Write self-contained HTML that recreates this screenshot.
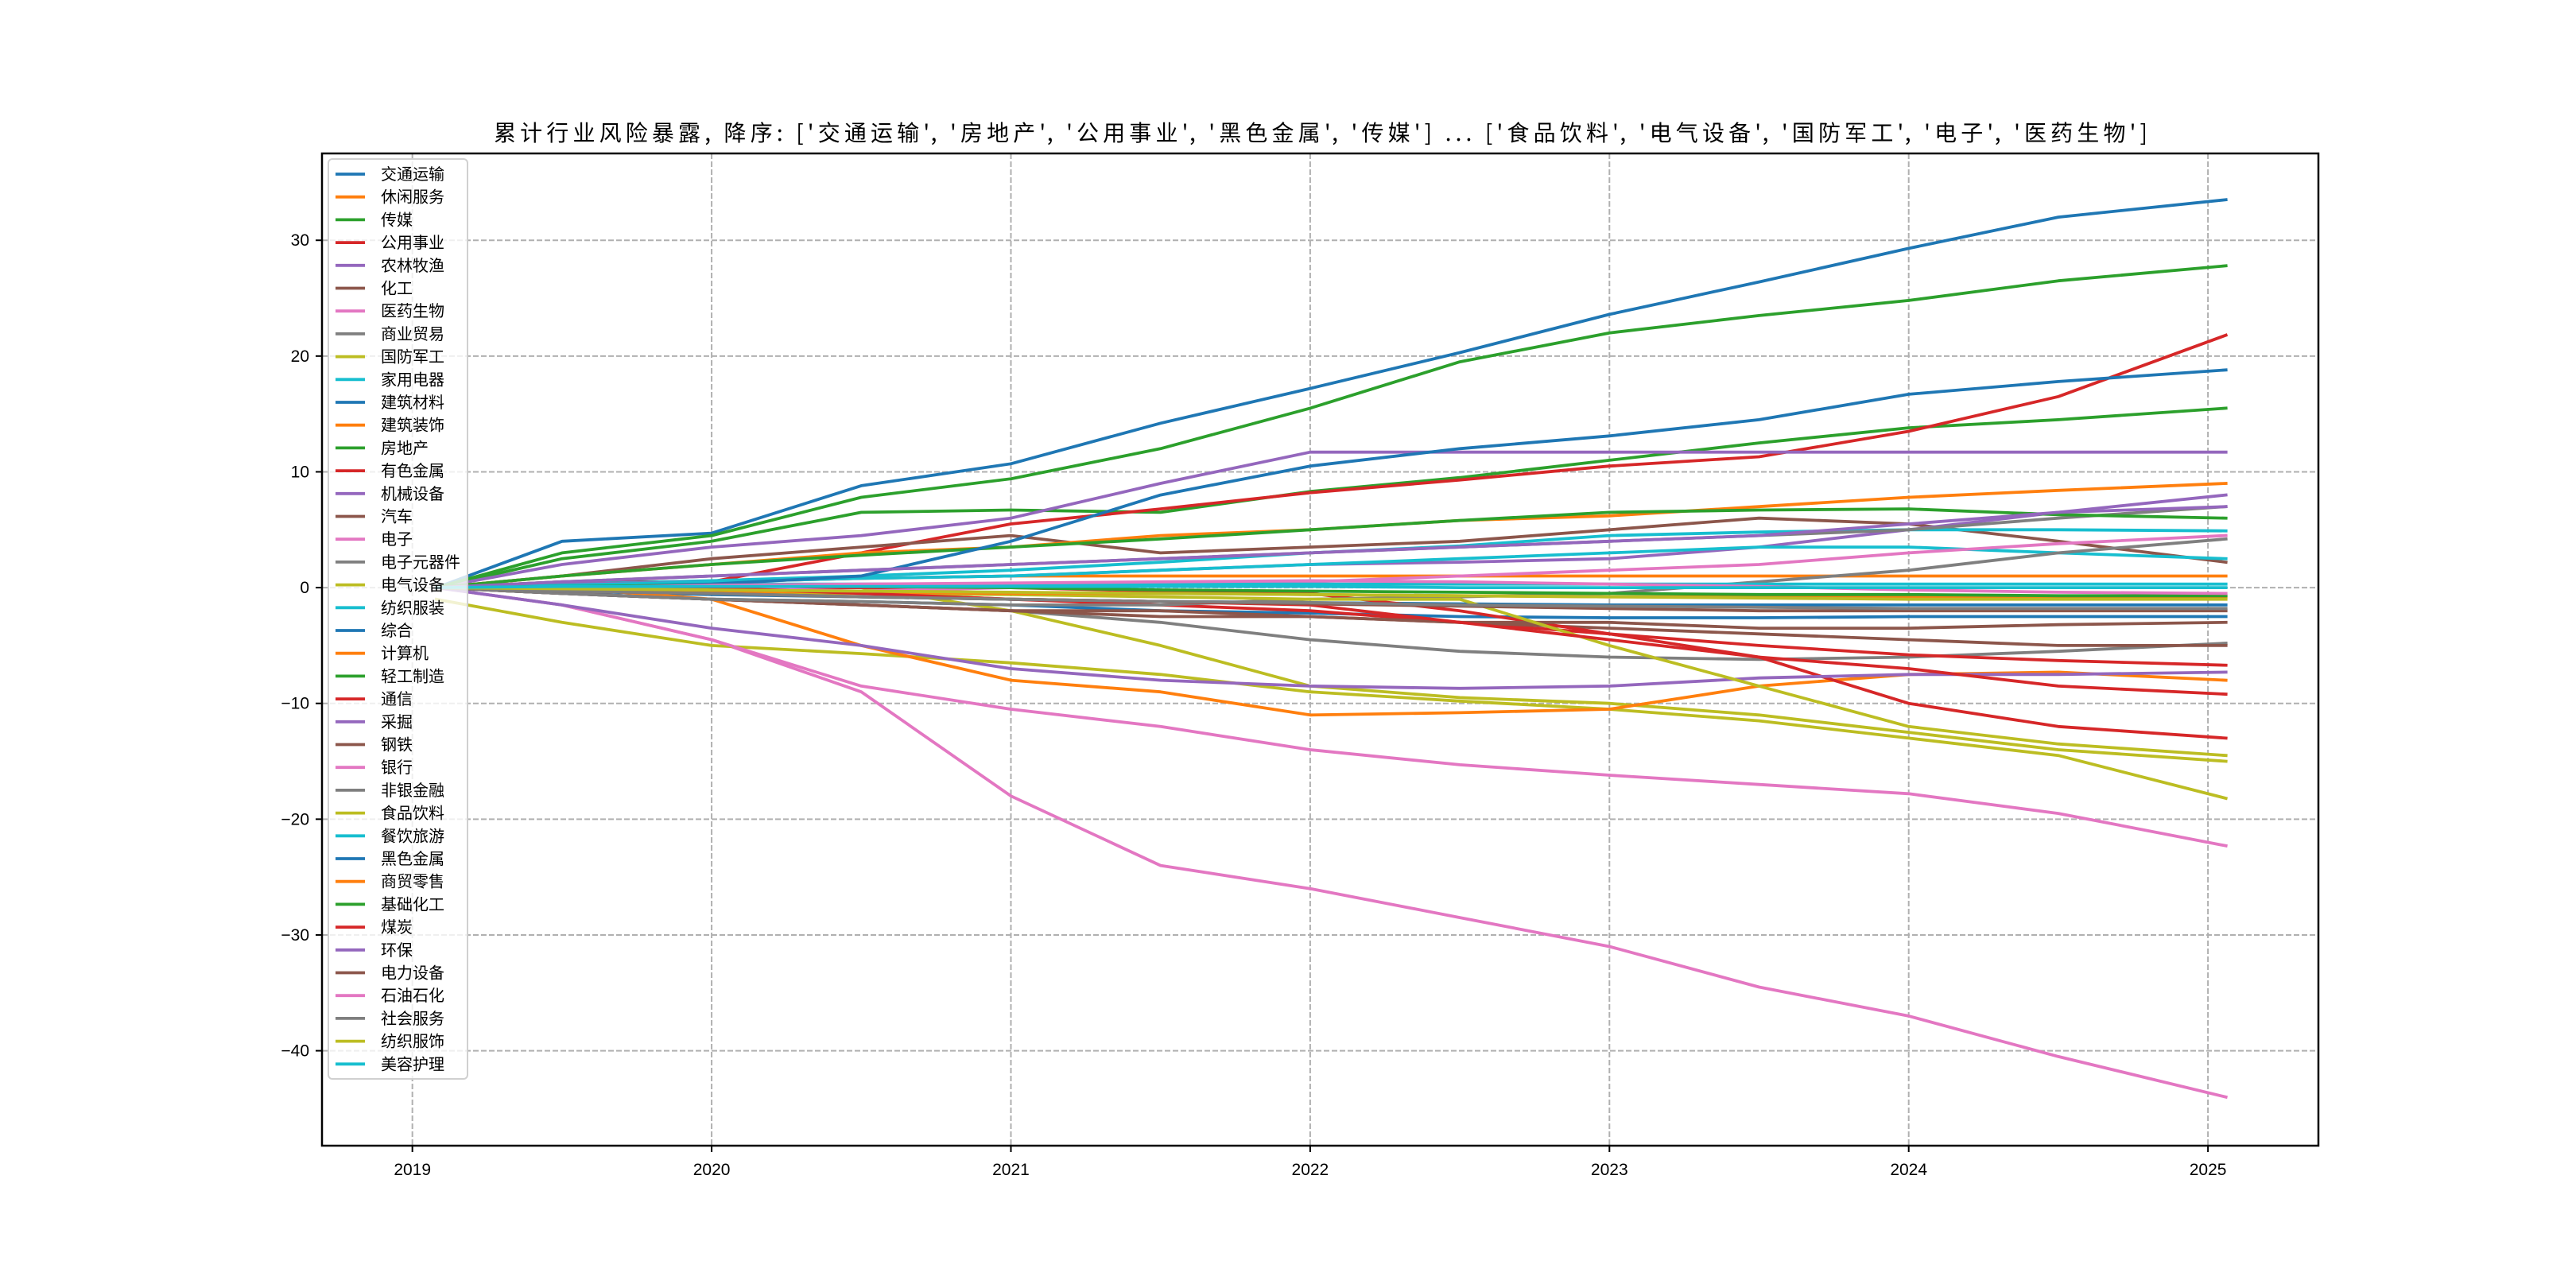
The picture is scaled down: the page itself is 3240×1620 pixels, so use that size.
<!DOCTYPE html>
<html><head><meta charset="utf-8">
<style>
html,body{margin:0;padding:0;background:#fff;}
svg{display:block;font-family:"Liberation Sans","WenQuanYi Zen Hei","Noto Sans CJK SC",sans-serif;}
</style></head>
<body>
<svg id="chart" width="3240" height="1620" viewBox="0 0 3240 1620" xmlns="http://www.w3.org/2000/svg">
<rect x="0" y="0" width="3240" height="1620" fill="#fff"/>
<text x="1661" y="177" text-anchor="middle" font-size="28" textLength="2080" lengthAdjust="spacing" fill="#000" font-family="'WenQuanYi Zen Hei','Noto Sans CJK SC',sans-serif">累计行业风险暴露, 降序: ['交通运输', '房地产', '公用事业', '黑色金属', '传媒'] ... ['食品饮料', '电气设备', '国防军工', '电子', '医药生物']</text>
<g id="grid"></g>
<g id="series"></g>
<rect x="405" y="193" width="2511" height="1248" fill="none" stroke="#000" stroke-width="2.5"/>
<g id="ticks"></g>
<g id="legend"></g>
</svg>
<script>
const dates = [2019.08, 2019.5, 2020, 2020.5, 2021, 2021.5, 2022, 2022.5, 2023, 2023.5, 2024, 2024.5, 2025.06];
const xTicks = [2019, 2020, 2021, 2022, 2023, 2024, 2025];
const yTicks = [-40, -30, -20, -10, 0, 10, 20, 30];
const names = ['交通运输','休闲服务','传媒','公用事业','农林牧渔','化工','医药生物','商业贸易','国防军工','家用电器','建筑材料','建筑装饰','房地产','有色金属','机械设备','汽车','电子','电子元器件','电气设备','纺织服装','综合','计算机','轻工制造','通信','采掘','钢铁','银行','非银金融','食品饮料','餐饮旅游','黑色金属','商贸零售','基础化工','煤炭','环保','电力设备','石油石化','社会服务','纺织服饰','美容护理'];
const palette = ['#1f77b4','#ff7f0e','#2ca02c','#d62728','#9467bd','#8c564b','#e377c2','#7f7f7f','#bcbd22','#17becf'];
const s00 = [0,4,4.7,8.8,10.7,14.2,17.2,20.3,23.6,26.4,29.3,32,33.5];
const s01 = [0,0.3,0.5,0.8,1,1,1,1,1,1,1,1,1];
const s02 = [0,2.5,4,6.5,6.7,6.5,8.3,9.5,11,12.5,13.8,14.5,15.5];
const s03 = [0,0.5,0.5,3,5.5,6.8,8.2,9.3,10.5,11.3,13.5,16.5,21.8];
const s04 = [0,2,3.5,4.5,6,9,11.7,11.7,11.7,11.7,11.7,11.7,11.7];
const s05 = [0,1,2.5,3.5,4.5,3,3.5,4,5,6,5.5,4,2.2];
const s06 = [0,-1.5,-4.5,-9,-18,-24,-26,-28.5,-31,-34.5,-37,-40.5,-44];
const s07 = [0,-0.5,-1,-1.5,-2,-3,-4.5,-5.5,-6,-6.2,-6,-5.5,-4.8];
const s08 = [-1,-3,-5,-5.7,-6.5,-7.5,-9,-9.8,-10.5,-11.5,-13,-14.5,-18.2];
const s09 = [0,0.3,0.6,1,1.5,2.2,3,3.6,4.5,4.8,5,5,4.9];
const s10 = [0,-0.5,-1,-1.2,-1.5,-2,-2.2,-2.5,-2.6,-2.6,-2.5,-2.5,-2.5];
const s11 = [0,1,2,3,3.5,4.5,5,5.8,6.2,7,7.8,8.4,9];
const s12 = [0,3,4.5,7.8,9.4,12,15.5,19.5,22,23.5,24.8,26.5,27.8];
const s13 = [0,0,-0.5,-0.5,-1,-1.5,-2,-3,-4,-5,-5.8,-6.3,-6.7];
const s14 = [0,0.3,0.5,0.8,1,1.5,2,2.2,2.5,3.5,5,6.5,8];
const s15 = [0,-0.5,-1,-1.5,-2,-2,-2.5,-3,-3.5,-4,-4.5,-5,-5];
const s16 = [0,-1.5,-4.5,-8.5,-10.5,-12,-14,-15.3,-16.2,-17,-17.8,-19.5,-22.3];
const s17 = [0,0.5,1,1.5,2,2.5,3,3.5,4,4.5,5,6,7];
const s18 = [0,0,0,0,-2,-5,-8.5,-9.5,-10,-11,-12.5,-14,-15];
const s19 = [0,0.2,0.5,0.8,1,1.5,2,2.5,3,3.5,3.5,3,2.5];
const s20 = [0,-0.3,-0.6,-0.8,-1,-1.2,-1.3,-1.4,-1.5,-1.5,-1.5,-1.5,-1.5];
const s21 = [0,0,-1,-5,-8,-9,-11,-10.8,-10.5,-8.5,-7.5,-7.3,-8];
const s22 = [0,1,2,2.8,3.5,4.2,5,5.8,6.5,6.7,6.8,6.3,6];
const s23 = [0,0,0,0,0,-0.3,-0.5,-2,-4,-6,-10,-12,-13];
const s24 = [0,-1.5,-3.5,-5,-7,-8,-8.5,-8.7,-8.5,-7.8,-7.5,-7.5,-7.3];
const s25 = [0,-0.5,-1,-1.5,-2,-2.5,-2.5,-3,-3,-3.5,-3.5,-3.2,-3];
const s26 = [0,0,0,-0.3,0,0.3,0.5,1,1.5,2,3,3.8,4.5];
const s27 = [0,-0.5,-1,-1.2,-1.5,-1.5,-1,-0.8,-0.5,0.5,1.5,3,4.2];
const s28 = [0,0,-0.3,-0.5,-0.6,-0.8,-1,-1,-5,-8.5,-12,-13.5,-14.5];
const s29 = [0,0.2,0.3,0.3,0.3,0.3,0.3,0.3,0.3,0.3,0.3,0.3,0.3];
const s30 = [0,0,0.3,1,4,8,10.5,12,13.1,14.5,16.7,17.8,18.8];
const s31 = [0,-0.2,-0.3,-0.4,-0.5,-0.5,-0.6,-0.7,-0.8,-0.8,-0.8,-0.8,-0.8];
const s32 = [0,0.1,0.2,0.1,0,-0.2,-0.3,-0.4,-0.5,-0.6,-0.6,-0.7,-0.7];
const s33 = [0,0,0,-0.5,-1,-1.2,-1.5,-3,-4.5,-6,-7,-8.5,-9.2];
const s34 = [0,0.5,1,1.5,2,2.5,3,3.5,4,4.5,5.5,6.5,7];
const s35 = [0,-0.3,-0.5,-0.8,-1,-1.2,-1.4,-1.6,-1.8,-2,-2,-2,-2];
const s36 = [0,0,0.2,0.3,0.4,0.5,0.6,0.5,0.3,0.1,-0.2,-0.4,-0.5];
const s37 = [0,-0.3,-0.5,-0.8,-1,-1.2,-1.3,-1.5,-1.6,-1.7,-1.8,-1.8,-1.8];
const s38 = [0,-0.1,-0.2,-0.3,-0.4,-0.5,-0.6,-0.7,-0.8,-0.9,-1,-1,-1];
const s39 = [0,0.1,0.1,0.1,0.1,0.1,0.1,0,0,0,0,0,0];
const seriesValues = [s00,s01,s02,s03,s04,s05,s06,s07,s08,s09,s10,s11,s12,s13,s14,s15,s16,s17,s18,s19,s20,s21,s22,s23,s24,s25,s26,s27,s28,s29,s30,s31,s32,s33,s34,s35,s36,s37,s38,s39];

const NS = 'http://www.w3.org/2000/svg';
const L = 405, R = 2916, T = 193, B = 1441;
const xMin = 2018.698, xMax = 2025.369, yMin = -48.2, yMax = 37.5;
function xs(v){ return L + (v - xMin) / (xMax - xMin) * (R - L); }
function ys(v){ return B - (v - yMin) / (yMax - yMin) * (B - T); }
function mk(tag, attrs){ const e = document.createElementNS(NS, tag); for (const k in attrs) e.setAttribute(k, attrs[k]); return e; }

const grid = document.getElementById('grid');
const ticks = document.getElementById('ticks');
xTicks.forEach(t => {
  const x = xs(t);
  const g = mk('line', {x1:x, y1:T, x2:x, y2:B, stroke:'#b0b0b0', 'stroke-width':2, 'stroke-dasharray':'7,3'});
  
  
  grid.appendChild(g);
  const tk = mk('line', {x1:x, y1:B, x2:x, y2:B+8, stroke:'#000', 'stroke-width':2});
  
  
  ticks.appendChild(tk);
  const lb = mk('text', {x:x, y:B+37, 'text-anchor':'middle', 'font-size':21, fill:'#000'});
  lb.textContent = String(t);
  
  
  ticks.appendChild(lb);
});
yTicks.forEach(t => {
  const y = ys(t);
  const g = mk('line', {x1:L, y1:y, x2:R, y2:y, stroke:'#b0b0b0', 'stroke-width':2, 'stroke-dasharray':'7,3'});
  
  
  grid.appendChild(g);
  const tk = mk('line', {x1:L-8, y1:y, x2:L, y2:y, stroke:'#000', 'stroke-width':2});
  
  
  ticks.appendChild(tk);
  const lb = mk('text', {x:L-16, y:y+7, 'text-anchor':'end', 'font-size':21, fill:'#000'});
  lb.textContent = t < 0 ? '\u2212' + Math.abs(t) : String(t);
  
  
  ticks.appendChild(lb);
});

const sg = document.getElementById('series');
seriesValues.forEach((vals, i) => {
  const pts = vals.map((v, j) => xs(dates[j]).toFixed(1) + ',' + ys(v).toFixed(1)).join(' ');
  const pl = mk('polyline', {points:pts, fill:'none', stroke:palette[i % 10], 'stroke-width':3.8, 'stroke-linejoin':'round', 'stroke-linecap':'square'});
  
  
  sg.appendChild(pl);
});

const lg = document.getElementById('legend');
const lx = 413, ly = 200, rowH = 28.7, firstY = 219;
const box = mk('rect', {x:lx, y:ly, width:175, height:1157, rx:5, fill:'#fff', 'fill-opacity':0.8, stroke:'#d0d0d0', 'stroke-width':2});


lg.appendChild(box);
names.forEach((n, i) => {
  const y = firstY + i * rowH;
  const ln = mk('line', {x1:422, y1:y, x2:459, y2:y, stroke:palette[i % 10], 'stroke-width':3.8});
  
  
  lg.appendChild(ln);
  const tx = mk('text', {x:479, y:y+7, 'font-size':20, fill:'#000', 'font-family':"'WenQuanYi Zen Hei','Noto Sans CJK SC',sans-serif"});
  tx.textContent = n;
  
  
  lg.appendChild(tx);
});
</script>
</body></html>
